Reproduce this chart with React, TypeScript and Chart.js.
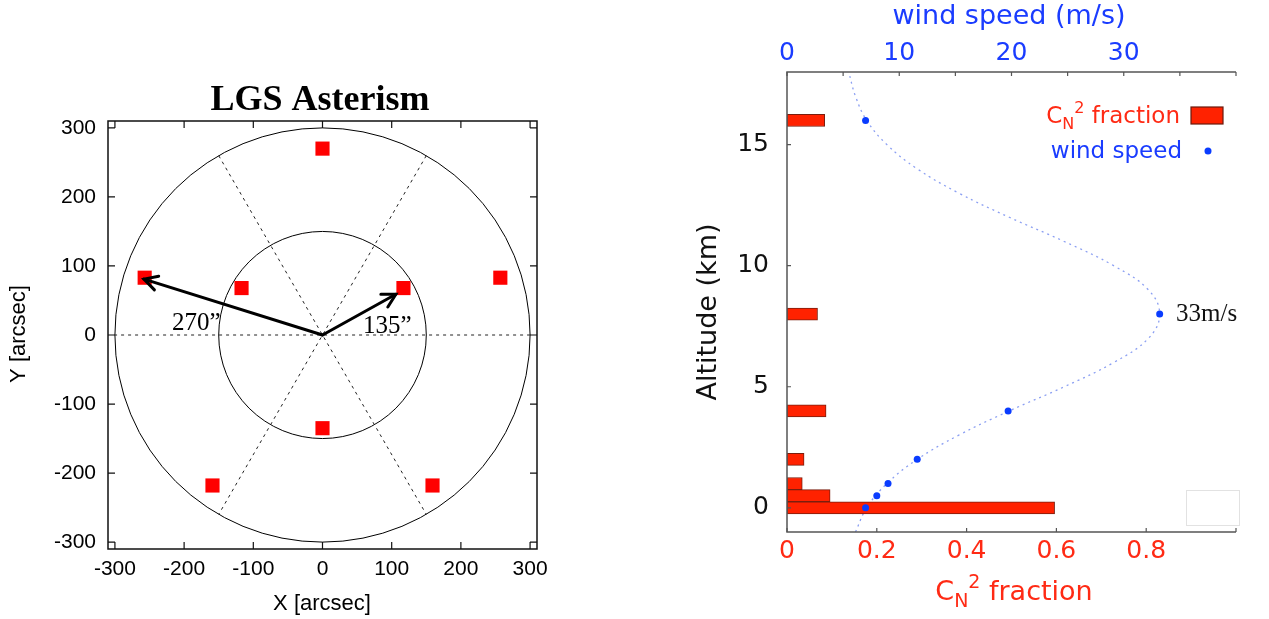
import React, { useEffect, useRef } from 'react';
import { Chart, registerables } from 'chart.js';
Chart.register(...registerables);

// ---------- Left panel: LGS asterism (arcsec) ----------
const lgsX = [0, -257, -159, 159, 257, 117, -117, 0];
const lgsY = [270, 83, -218, -218, 83, 68, 68, -135];
const ringRadii = [150, 300];
const spokeAnglesDeg = [0, 60, 120];
const arrowTipX = [-258, 106];
const arrowTipY = [81, 59];
const arrowLabels = ['270\u201D', '135\u201D'];
const asterTicks = [-300, -200, -100, 0, 100, 200, 300];

// ---------- Right panel: turbulence profile ----------
const altitudesKm = [0, 0.5, 1, 2, 4, 8, 16];
const cn2Fraction = [0.596, 0.096, 0.034, 0.038, 0.087, 0.068, 0.084];
const windSpeed = [7.0, 8.0, 9.0, 11.6, 19.7, 33.2, 7.0];
const curveAltKm = [-1, 0, 1, 2, 3, 4, 5, 6, 7, 8, 9, 10, 11, 12, 13, 14, 15, 16, 17, 18];
const curveWind = [6.1, 7.1, 8.9, 11.6, 15.3, 19.8, 24.7, 29.1, 32.2, 33.2, 32.2, 29.1, 24.7, 19.8, 15.3, 11.6, 8.9, 7.1, 6.1, 5.5];
const altTicks = [0, 5, 10, 15];
const cn2Ticks = [0, 0.2, 0.4, 0.6, 0.8];
const cn2TickMarks = [0, 0.2, 0.4, 0.6, 0.8, 1.0];
const windTicks = [0, 10, 20, 30];
const windTickMarks = [0, 5, 10, 15, 20, 25, 30, 35, 40];

const SANS = "'Liberation Sans', Arial, sans-serif";
const SERIF = "'Liberation Serif', 'Times New Roman', serif";
const DJ = "'DejaVu Sans', Verdana, sans-serif";
const RED_TXT = '#ff2a14';
const BLUE_TXT = '#1a3cff';

function drawArrow(ctx: CanvasRenderingContext2D, x0: number, y0: number, x1: number, y1: number) {
  ctx.beginPath();
  ctx.moveTo(x0, y0);
  ctx.lineTo(x1, y1);
  ctx.stroke();
  const ang = Math.atan2(y1 - y0, x1 - x0);
  const L = 15, spread = 0.5;
  ctx.beginPath();
  ctx.moveTo(x1 - L * Math.cos(ang - spread), y1 - L * Math.sin(ang - spread));
  ctx.lineTo(x1, y1);
  ctx.lineTo(x1 - L * Math.cos(ang + spread), y1 - L * Math.sin(ang + spread));
  ctx.stroke();
}

function drawCn2Label(ctx: CanvasRenderingContext2D, mainF: string, smallF: string, x: number, base: number, subDy: number, supDy: number, align: 'right' | 'center') {
  ctx.textAlign = 'left';
  ctx.textBaseline = 'alphabetic';
  ctx.font = mainF; const wC = ctx.measureText('C').width; const wRest = ctx.measureText(' fraction').width;
  ctx.font = smallF; const wN = ctx.measureText('N').width; const w2 = ctx.measureText('2').width;
  const total = wC + wN + w2 + wRest;
  const sx = align === 'right' ? x - total : x - total / 2;
  ctx.font = mainF; ctx.fillText('C', sx, base);
  ctx.font = smallF;
  ctx.fillText('N', sx + wC, base + subDy);
  ctx.fillText('2', sx + wC + wN, base + supDy);
  ctx.font = mainF; ctx.fillText(' fraction', sx + wC + wN + w2, base);
}

const asterPlugin = {
  id: 'aster',
  beforeDatasetsDraw(chart: any) {
    const { ctx, scales } = chart;
    const x = scales.x, y = scales.y;
    const cx = x.getPixelForValue(0), cy = y.getPixelForValue(0);
    ctx.save();
    ctx.strokeStyle = '#000';
    ctx.lineWidth = 1;
    ringRadii.forEach((r) => {
      const rx = x.getPixelForValue(r) - cx;
      const ry = cy - y.getPixelForValue(r);
      ctx.beginPath();
      ctx.ellipse(cx, cy, rx, ry, 0, 0, Math.PI * 2);
      ctx.stroke();
    });
    ctx.setLineDash([3, 4]);
    ctx.strokeStyle = '#222';
    const R = ringRadii[ringRadii.length - 1];
    spokeAnglesDeg.forEach((a) => {
      const t = (a * Math.PI) / 180;
      ctx.beginPath();
      ctx.moveTo(x.getPixelForValue(R * Math.cos(t)), y.getPixelForValue(R * Math.sin(t)));
      ctx.lineTo(x.getPixelForValue(-R * Math.cos(t)), y.getPixelForValue(-R * Math.sin(t)));
      ctx.stroke();
    });
    ctx.restore();
  },
  afterDatasetsDraw(chart: any) {
    const { ctx, scales } = chart;
    const x = scales.x, y = scales.y;
    const cx = x.getPixelForValue(0), cy = y.getPixelForValue(0);
    ctx.save();
    ctx.strokeStyle = '#000';
    ctx.lineWidth = 3;
    ctx.lineCap = 'round';
    ctx.lineJoin = 'miter';
    arrowTipX.forEach((ax, i) => {
      drawArrow(ctx, cx, cy, x.getPixelForValue(ax), y.getPixelForValue(arrowTipY[i]));
    });
    ctx.fillStyle = '#000';
    ctx.font = `25px ${SERIF}`;
    ctx.textBaseline = 'alphabetic';
    ctx.textAlign = 'left';
    ctx.fillText(arrowLabels[0], 172, 330);
    ctx.fillText(arrowLabels[1], 363, 333);
    ctx.restore();
  },
  afterDraw(chart: any) {
    const { ctx, chartArea, scales } = chart;
    const x = scales.x, y = scales.y;
    const { left, right, top, bottom } = chartArea;
    ctx.save();
    ctx.strokeStyle = '#111';
    ctx.lineWidth = 1.5;
    ctx.strokeRect(left, top, right - left, bottom - top);
    ctx.lineWidth = 1.2;
    const tl = 7;
    asterTicks.forEach((v) => {
      const px = x.getPixelForValue(v);
      const py = y.getPixelForValue(v);
      ctx.beginPath();
      ctx.moveTo(px, bottom); ctx.lineTo(px, bottom - tl);
      ctx.moveTo(px, top); ctx.lineTo(px, top + tl);
      ctx.moveTo(left, py); ctx.lineTo(left + tl, py);
      ctx.moveTo(right, py); ctx.lineTo(right - tl, py);
      ctx.stroke();
    });
    ctx.fillStyle = '#000';
    ctx.textAlign = 'center';
    ctx.font = `bold 36px ${SERIF}`;
    ctx.textBaseline = 'alphabetic';
    ctx.fillText('LGS Asterism', 320, 110);
    ctx.font = `22px ${SANS}`;
    ctx.textBaseline = 'middle';
    ctx.fillText('X [arcsec]', 322, 604);
    ctx.translate(19, 334);
    ctx.rotate(-Math.PI / 2);
    ctx.fillText('Y [arcsec]', 0, 0);
    ctx.restore();
  },
};

const RIGHT_OFF = 640;

const profilePlugin = {
  id: 'profile',
  afterDraw(chart: any) {
    const { ctx, chartArea, scales } = chart;
    const { left, right, top, bottom } = chartArea;
    const xs = scales.x, x2 = scales.x2, ys = scales.y;
    ctx.save();
    // axes
    ctx.strokeStyle = '#555';
    ctx.lineWidth = 1.5;
    ctx.beginPath();
    ctx.moveTo(right, top); ctx.lineTo(left, top); ctx.lineTo(left, bottom); ctx.lineTo(right, bottom);
    ctx.stroke();
    ctx.lineWidth = 1.2;
    const tl = 4;
    ctx.beginPath();
    cn2TickMarks.forEach((v) => { const p = xs.getPixelForValue(v); ctx.moveTo(p, bottom); ctx.lineTo(p, bottom - tl); });
    windTickMarks.forEach((v) => { const p = x2.getPixelForValue(v); ctx.moveTo(p, top); ctx.lineTo(p, top + tl); });
    altTicks.forEach((v) => { const p = ys.getPixelForValue(v); ctx.moveTo(left, p); ctx.lineTo(left + tl, p); });
    ctx.stroke();

    // empty box bottom-right
    ctx.strokeStyle = '#e2e2e2';
    ctx.lineWidth = 1;
    ctx.strokeRect(1186.5 - RIGHT_OFF, 490.5, 53, 35);

    // legend
    const lx = 1180 - RIGHT_OFF;
    ctx.fillStyle = RED_TXT;
    drawCn2Label(ctx, `23px ${DJ}`, `16px ${DJ}`, lx, 123, 6, -10, 'right');
    ctx.fillStyle = '#ff2200';
    ctx.fillRect(1191 - RIGHT_OFF, 107, 32, 17);
    ctx.strokeStyle = '#6a1a0c';
    ctx.lineWidth = 1.2;
    ctx.strokeRect(1191 - RIGHT_OFF, 107, 32, 17);
    ctx.fillStyle = BLUE_TXT;
    ctx.font = `23px ${DJ}`;
    ctx.textAlign = 'right';
    ctx.textBaseline = 'alphabetic';
    ctx.fillText('wind speed', lx + 2, 158);
    ctx.fillStyle = '#0a3cff';
    ctx.beginPath(); ctx.arc(1208 - RIGHT_OFF, 151, 3.5, 0, Math.PI * 2); ctx.fill();

    // annotation
    ctx.fillStyle = '#111';
    ctx.font = `25px ${SERIF}`;
    ctx.textAlign = 'left';
    ctx.textBaseline = 'middle';
    ctx.fillText('33m/s', 1176 - RIGHT_OFF, ys.getPixelForValue(altitudesKm[5]));

    // axis titles
    ctx.textAlign = 'center';
    ctx.fillStyle = BLUE_TXT;
    ctx.font = `27px ${DJ}`;
    ctx.fillText('wind speed (m/s)', 1009 - RIGHT_OFF, 17);

    ctx.fillStyle = RED_TXT;
    drawCn2Label(ctx, `27px ${DJ}`, `19px ${DJ}`, 1014 - RIGHT_OFF, 600, 7, -12, 'center');

    ctx.fillStyle = '#111';
    ctx.font = `27px ${DJ}`;
    ctx.textAlign = 'center';
    ctx.textBaseline = 'middle';
    ctx.translate(709 - RIGHT_OFF, 312);
    ctx.rotate(-Math.PI / 2);
    ctx.fillText('Altitude (km)', 0, 0);
    ctx.restore();
  },
};

export default function App() {
  const leftRef = useRef<HTMLCanvasElement>(null);
  const rightRef = useRef<HTMLCanvasElement>(null);

  useEffect(() => {
    const left = new Chart(leftRef.current as HTMLCanvasElement, {
      type: 'scatter',
      data: {
        datasets: [
          {
            data: lgsX.map((v, i) => ({ x: v, y: lgsY[i] })),
            pointStyle: 'rect',
            pointRadius: 10,
            backgroundColor: '#ff0000',
            borderWidth: 0,
          },
        ],
      },
      options: {
        animation: false,
        responsive: false,
        maintainAspectRatio: false,
        layout: { padding: { left: 0, right: 63, top: 121, bottom: 0 } },
        plugins: { legend: { display: false }, tooltip: { enabled: false } },
        scales: {
          x: {
            type: 'linear', min: -310, max: 310,
            grid: { display: false, drawTicks: false }, border: { display: false },
            afterBuildTicks: (s: any) => { s.ticks = asterTicks.map((v) => ({ value: v })); },
            afterFit: (s: any) => { s.height = 70; },
            ticks: { font: { family: SANS, size: 21 }, color: '#000', padding: 8, maxRotation: 0, autoSkip: false },
          },
          y: {
            type: 'linear', min: -310, max: 310,
            grid: { display: false, drawTicks: false }, border: { display: false },
            afterBuildTicks: (s: any) => { s.ticks = asterTicks.map((v) => ({ value: v })); },
            afterFit: (s: any) => { s.width = 108; },
            ticks: { font: { family: SANS, size: 21 }, color: '#000', padding: 12, autoSkip: false },
          },
        },
      } as any,
      plugins: [asterPlugin],
    });

    const right = new Chart(rightRef.current as HTMLCanvasElement, {
      type: 'bar',
      data: {
        datasets: [
          {
            type: 'scatter',
            data: altitudesKm.map((a, i) => ({ x: windSpeed[i], y: a })),
            xAxisID: 'x2', yAxisID: 'y',
            pointRadius: 3.5, pointBackgroundColor: '#0a3cff', pointBorderWidth: 0,
            order: 0,
          },
          {
            type: 'bar',
            indexAxis: 'y',
            data: altitudesKm.map((a, i) => ({ x: cn2Fraction[i], y: a })),
            xAxisID: 'x', yAxisID: 'y',
            backgroundColor: '#ff2200', borderColor: '#7a1e0e', borderWidth: 1, borderSkipped: false,
            barPercentage: 1, categoryPercentage: 1,
            order: 1,
          },
          {
            type: 'scatter',
            data: curveAltKm.map((a, i) => ({ x: curveWind[i], y: a })),
            xAxisID: 'x2', yAxisID: 'y',
            showLine: true, pointRadius: 0, borderColor: '#8b9ff2', borderWidth: 1.3,
            borderDash: [2, 4], tension: 0.4, fill: false,
            order: 2,
          },
        ],
      } as any,
      options: {
        animation: false,
        responsive: false,
        maintainAspectRatio: false,
        indexAxis: 'y',
        layout: { padding: { left: 0, right: 33, top: 0, bottom: 0 } },
        plugins: { legend: { display: false }, tooltip: { enabled: false } },
        scales: {
          x: {
            type: 'linear', position: 'bottom', min: 0, max: 1, offset: false,
            grid: { display: false, drawTicks: false, offset: false }, border: { display: false },
            afterBuildTicks: (s: any) => { s.ticks = cn2Ticks.map((v) => ({ value: v })); },
            afterFit: (s: any) => { s.height = 87; },
            ticks: { font: { family: DJ, size: 25 }, color: RED_TXT, padding: 4, maxRotation: 0, autoSkip: false },
          },
          x2: {
            type: 'linear', position: 'top', min: 0, max: 40, offset: false,
            grid: { display: false, drawTicks: false, offset: false }, border: { display: false },
            afterBuildTicks: (s: any) => { s.ticks = windTicks.map((v) => ({ value: v })); },
            afterFit: (s: any) => { s.height = 72; },
            ticks: { font: { family: DJ, size: 25 }, color: BLUE_TXT, padding: 4, maxRotation: 0, autoSkip: false },
          },
          y: {
            type: 'linear', position: 'left', min: -1, max: 18, offset: false,
            grid: { display: false, drawTicks: false, offset: false }, border: { display: false },
            afterBuildTicks: (s: any) => { s.ticks = altTicks.map((v) => ({ value: v })); },
            afterFit: (s: any) => { s.width = 147; },
            ticks: { font: { family: DJ, size: 25 }, color: '#111', padding: 18, autoSkip: false },
          },
        },
      } as any,
      plugins: [profilePlugin],
    });

    return () => {
      left.destroy();
      right.destroy();
    };
  }, []);

  return (
    <div style={{ position: 'absolute', left: 0, top: 0, width: 1269, height: 619, background: '#fff', overflow: 'hidden' }}>
      <canvas ref={leftRef} width={600} height={619} style={{ position: 'absolute', left: 0, top: 0, width: 600, height: 619 }} />
      <canvas ref={rightRef} width={629} height={619} style={{ position: 'absolute', left: RIGHT_OFF, top: 0, width: 629, height: 619 }} />
    </div>
  );
}
